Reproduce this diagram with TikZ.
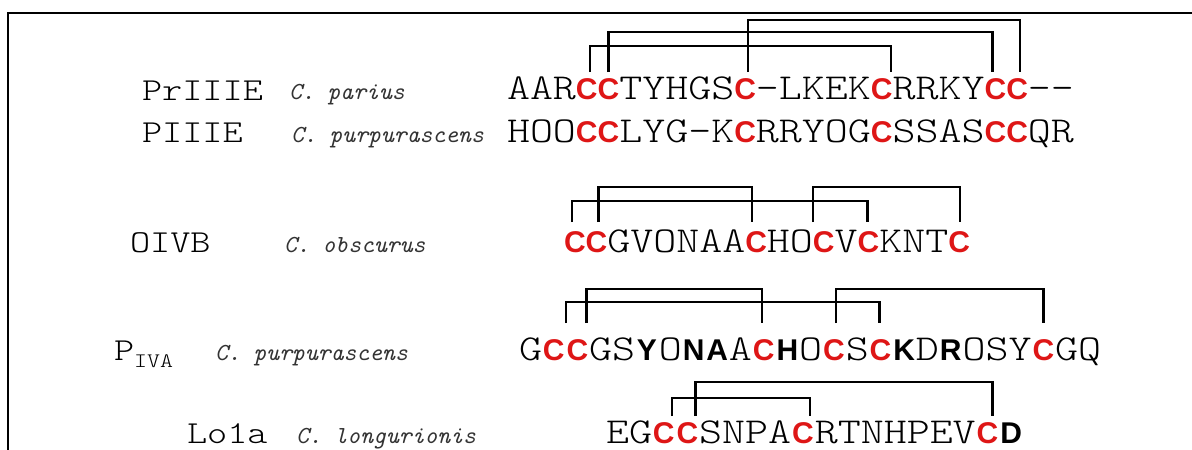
\documentclass[tikz,border=0pt]{standalone}
\usepackage{fontspec}
\newfontfamily\monof{lmmonolt10-regular.otf}[FakeStretch=1.2]
\newfontfamily\monoit{lmmono10-italic.otf}
\newfontfamily\sansf{Liberation Sans}
\definecolor{cred}{RGB}{222,22,22}
\tikzset{
  sN/.style={inner sep=0pt,outer sep=0pt,font=\monof\fontsize{36.5}{38}\selectfont},
  sC/.style={inner sep=0pt,outer sep=0pt,font=\sansf\bfseries\fontsize{30}{32}\selectfont,text=cred},
  sB/.style={inner sep=0pt,outer sep=0pt,font=\sansf\bfseries\fontsize{30}{32}\selectfont,text=black},
  sCw/.style={sC,minimum width=23.6pt},
  sBw/.style={sB,minimum width=23.6pt},
  toxlabel/.style={inner sep=0pt,outer sep=0pt,anchor=base west,font=\monof\fontsize{32}{34}\selectfont},
  species/.style={inner sep=0pt,outer sep=0pt,anchor=base west,font=\monoit\fontsize{24.5}{26}\selectfont,text=black!80},
  bond/.style={line width=2.4pt,line join=miter},
  frameline/.style={line width=2.6pt}
}
\newcommand\seqrow[3]{%
  \node[inner sep=0pt,outer sep=0pt,anchor=base west] (#1-0) at #2 {};
  \foreach [count=\i, remember=\i as \j (initially 0)] \st/\ch in {#3} {
    \node[\st,anchor=base west] (#1-\i) at (#1-\j.base east) {\ch};
  }%
}
% bond: row, first residue, its x shift, second residue, its x shift, level, bottom
\newcommand\bond[7]{%
  \draw[bond] ([xshift=#3pt]#1-#2.center |- 0,#7) |- ([xshift=#5pt]#1-#4.center |- 0,#6)
     -- ([xshift=#5pt]#1-#4.center |- 0,#7);%
}
\begin{document}
\begin{tikzpicture}[x=1pt,y=-1pt]
\useasboundingbox (0,0) rectangle (1192,450);
% frame
\draw[frameline] (1196,13) -- (8,13) -- (8,455);
% labels
\node[toxlabel] (l1) at (142,100) {PrIIIE};
\node[species] (s1) at (289,99) {C. parius};
\node[toxlabel] (l2) at (142,142) {PIIIE};
\node[species] (s2) at (291,142) {C. purpurascens};
\node[toxlabel] (l3) at (130,252) {OIVB};
\node[species] (s3) at (284,252) {C. obscurus};
\node[toxlabel] (l4) at (114,360) {P{\fontsize{20.6}{22}\selectfont\raisebox{-7pt}{IVA}}};
\node[species] (s4) at (215,360) {C. purpurascens};
\node[toxlabel] (l5) at (187,443) {Lo1a};
\node[species] (s5) at (296,443) {C. longurionis};
% sequences
\seqrow{ra}{(506,99)}{sN/A,sN/A,sN/R,sC/C,sC/C,sN/T,sN/Y,sN/H,sN/G,sN/S,sC/C,sN/-,sN/L,sN/K,sN/E,sN/K,sC/C,sN/R,sN/R,sN/K,sN/Y,sC/C,sC/C,sN/-,sN/-}
\seqrow{rb}{(506,142)}{sN/H,sN/O,sN/O,sC/C,sC/C,sN/L,sN/Y,sN/G,sN/-,sN/K,sC/C,sN/R,sN/R,sN/Y,sN/O,sN/G,sC/C,sN/S,sN/S,sN/A,sN/S,sC/C,sC/C,sN/Q,sN/R}
\seqrow{rc}{(563,252)}{sC/C,sC/C,sN/G,sN/V,sN/O,sN/N,sN/A,sN/A,sC/C,sN/H,sN/O,sC/C,sN/V,sC/C,sN/K,sN/N,sN/T,sC/C}
\seqrow{rd}{(518,360)}{sN/G,sCw/C,sCw/C,sN/G,sN/S,sBw/Y,sN/O,sBw/N,sBw/A,sN/A,sCw/C,sBw/H,sN/O,sCw/C,sN/S,sCw/C,sBw/K,sN/D,sBw/R,sN/O,sN/S,sN/Y,sCw/C,sN/G,sN/Q}
\seqrow{re}{(605,443)}{sN/E,sN/G,sCw/C,sCw/C,sN/S,sN/N,sN/P,sN/A,sCw/C,sN/R,sN/T,sN/N,sN/H,sN/P,sN/E,sN/V,sCw/C,sBw/D}
% disulfide bonds row 1
\bond{ra}{4}{3}{17}{9}{46}{72}
\bond{ra}{5}{0}{22}{-3}{32}{72}
\bond{ra}{11}{3}{23}{3}{20}{72}
% row 3
\bond{rc}{2}{2}{9}{-4}{187}{222}
\bond{rc}{12}{-11}{18}{1}{187}{222}
\bond{rc}{1}{-3}{14}{-1}{201}{222}
% row 4
\bond{rd}{3}{9}{11}{-2}{289}{323}
\bond{rd}{14}{2}{23}{0}{289}{323}
\bond{rd}{2}{12}{16}{-1}{302}{323}
% row 5
\bond{re}{4}{8}{17}{5}{382}{416}
\bond{re}{3}{8}{9}{7}{398}{416}
\end{tikzpicture}
\end{document}
